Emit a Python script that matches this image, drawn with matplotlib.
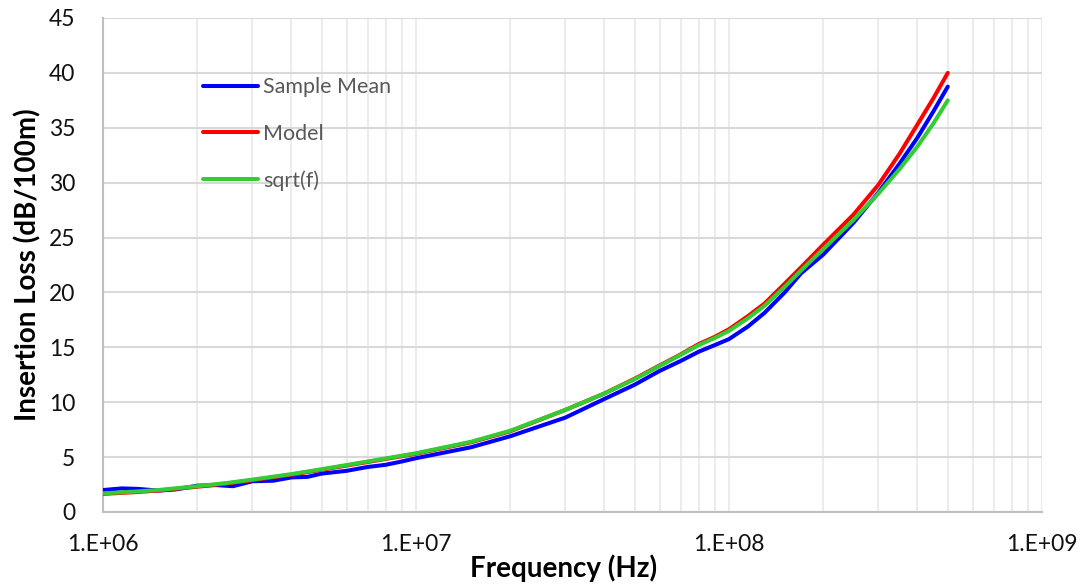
import matplotlib
matplotlib.use("Agg")
import matplotlib.pyplot as plt
from matplotlib.ticker import LogLocator, FixedLocator, FuncFormatter, NullFormatter

# ---- data ----
freq_mean = [1e6, 1.15e6, 1.3e6, 1.5e6, 1.7e6, 2e6, 2.3e6, 2.6e6, 3e6, 3.5e6, 4e6, 4.5e6,
             5e6, 6e6, 7e6, 8e6, 9e6, 1e7, 1.5e7, 2e7, 3e7, 4e7, 5e7, 6e7, 7e7, 8e7, 9e7,
             1e8, 1.15e8, 1.3e8, 1.5e8, 1.7e8, 2e8, 2.5e8, 3e8, 3.5e8, 4e8, 4.5e8, 5e8]
sample_mean = [2.0, 2.15, 2.1, 1.95, 2.05, 2.4, 2.45, 2.35, 2.8, 2.85, 3.15, 3.2,
               3.5, 3.75, 4.1, 4.3, 4.6, 4.9, 5.9, 6.9, 8.6, 10.3, 11.6, 12.85, 13.75, 14.6, 15.2,
               15.75, 16.9, 18.15, 19.95, 21.75, 23.45, 26.35, 29.1, 31.7, 34.1, 36.5, 38.75]

freq_fit = [1e6, 1.25e6, 1.5e6, 2e6, 2.5e6, 3e6, 4e6, 5e6, 7e6, 1e7, 1.5e7, 2e7, 3e7, 4e7,
            5e7, 6e7, 7e7, 8e7, 9e7, 1e8, 1.15e8, 1.3e8, 1.5e8, 1.7e8, 2e8, 2.5e8, 3e8,
            3.5e8, 4e8, 4.5e8, 5e8]
model = [1.65, 1.8, 1.95, 2.3, 2.6, 2.9, 3.4, 3.85, 4.55, 5.3, 6.35, 7.35, 9.3, 10.8,
         12.15, 13.35, 14.35, 15.3, 15.95, 16.65, 17.85, 19.0, 20.75, 22.3, 24.35, 27.1, 29.8,
         32.6, 35.3, 37.7, 40.0]
sqrt_f = [1.7, 1.85, 2.0, 2.35, 2.65, 2.95, 3.45, 3.9, 4.6, 5.35, 6.4, 7.4, 9.3, 10.8,
          12.1, 13.3, 14.3, 15.2, 15.85, 16.5, 17.65, 18.8, 20.45, 22.0, 23.95, 26.6, 29.0,
          31.2, 33.3, 35.4, 37.5]

series_labels = ["Sample Mean", "Model", "sqrt(f)"]
x_tick_values = [1e6, 1e7, 1e8, 1e9]
x_tick_labels = ["1.E+06", "1.E+07", "1.E+08", "1.E+09"]
y_ticks = [0, 5, 10, 15, 20, 25, 30, 35, 40, 45]

plt.rcParams['font.family'] = ['Lato', 'DejaVu Sans']

fig = plt.figure(figsize=(10.85, 5.86), dpi=100)
ax = fig.add_axes([103/1085, 74/586, 939/1085, 494/586])

ax.plot(freq_mean, sample_mean, color='#0000ff', lw=2.9, solid_capstyle='round',
        solid_joinstyle='round', label=series_labels[0], zorder=3)
ax.plot(freq_fit, model, color='#ff0000', lw=2.9, solid_capstyle='round',
        solid_joinstyle='round', label=series_labels[1], zorder=4)
ax.plot(freq_fit, sqrt_f, color='#33cc33', lw=2.9, solid_capstyle='round',
        solid_joinstyle='round', label=series_labels[2], zorder=5)

ax.set_xscale('log')
ax.set_xlim(1e6, 1e9)
ax.set_ylim(0, 45)

ax.xaxis.set_major_locator(FixedLocator(x_tick_values))
ax.xaxis.set_major_formatter(FuncFormatter(lambda v, p: x_tick_labels[x_tick_values.index(v)] if v in x_tick_values else ""))
ax.xaxis.set_minor_locator(LogLocator(base=10, subs=range(2, 10), numticks=20))
ax.xaxis.set_minor_formatter(NullFormatter())
ax.set_yticks(y_ticks)

ax.tick_params(axis='both', which='both', length=0, labelcolor='#111111')
ax.tick_params(axis='x', pad=16, labelsize=16.5)
ax.tick_params(axis='y', pad=20, labelsize=16.5)

ax.grid(axis='y', which='major', color='#d9d9d9', lw=1.5, zorder=0)
ax.grid(axis='x', which='both', color='#ececec', lw=1.5, zorder=0)
ax.set_axisbelow(True)

for s in ['top', 'right']:
    ax.spines[s].set_visible(False)
for s in ['left', 'bottom']:
    ax.spines[s].set_color('#bfbfbf')
    ax.spines[s].set_linewidth(1.5)

ax.set_xlabel("Frequency (Hz)", fontsize=20, fontweight='bold', va='center')
ax.xaxis.set_label_coords(0.491, -0.113)
ax.set_ylabel("Insertion Loss (dB/100m)", fontsize=20, fontweight='bold', va='center')
ax.yaxis.set_label_coords(-0.08, 0.5)

leg = ax.legend(loc='upper left', bbox_to_anchor=(0.1065, 0.88), frameon=False,
                fontsize=15.5, handlelength=2.55, handletextpad=0.25,
                labelspacing=1.23, borderpad=0, borderaxespad=0)
for t in leg.get_texts():
    t.set_color('#595959')

fig.savefig("out.png", dpi=100, facecolor='white')
